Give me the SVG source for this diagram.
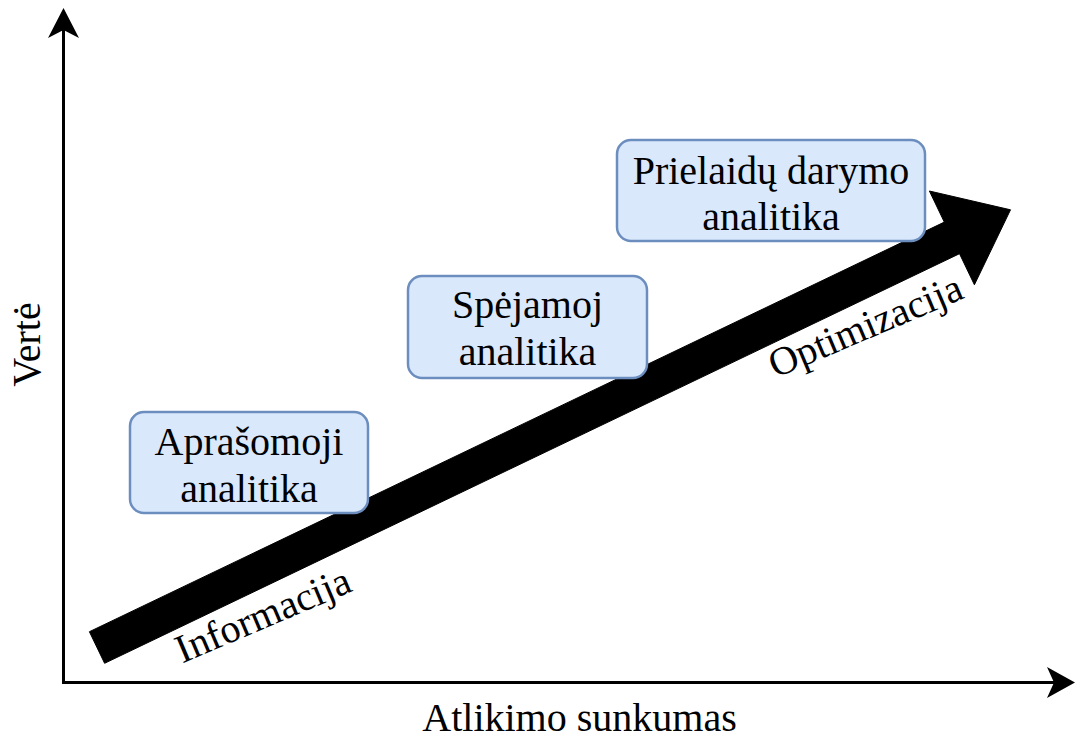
<svg xmlns="http://www.w3.org/2000/svg" width="1076" height="740" viewBox="0 0 1076 740">
<style>
.box{fill:#dae8fc;stroke:#6c8ebf;stroke-width:2.5}
.t{font-family:"Liberation Serif","Times New Roman",serif;font-size:40px;fill:#000;text-anchor:middle}
.axis{stroke:#000;stroke-width:3;fill:none}
</style>
<rect width="1076" height="740" fill="#fff"/>
<g id="connectors">
<line class="axis" x1="63.5" y1="684" x2="63.5" y2="30"/>
<line class="axis" x1="62" y1="682.5" x2="1054" y2="682.5"/>
<path d="M63.5 8 L79 38 L63.5 30 L48 38 Z" fill="#000"/>
<path d="M1075 682.5 L1047 698 L1054 682.5 L1047 667 Z" fill="#000"/>
<polygon id="big-arrow" points="89.4,631.7 944.3,222.1 929.4,191 1010.5,209.8 974.4,284.8 959.5,253.7 104.6,663.3" fill="#000" stroke="#000" stroke-width="1" stroke-linejoin="round"/>
</g>
<g id="node-aprasomoji">
<rect class="box" x="130" y="412" width="238" height="101" rx="14"/>
<text class="t" x="249" y="455">Aprašomoji</text>
<text class="t" x="249" y="502">analitika</text>
</g>
<g id="node-spejamoj">
<rect class="box" x="408" y="276" width="239" height="102" rx="14"/>
<text class="t" x="527.5" y="318">Spėjamoj</text>
<text class="t" x="527.5" y="365">analitika</text>
</g>
<g id="node-prielaidu">
<rect class="box" x="617" y="140" width="308" height="101" rx="14"/>
<text class="t" x="771" y="184">Prielaidų darymo</text>
<text class="t" x="771" y="230">analitika</text>
</g>
<g id="labels">
<text class="t" x="579.5" y="731">Atlikimo sunkumas</text>
<text class="t" transform="translate(40,344.5) rotate(-90)">Vertė</text>
<text class="t" transform="translate(268,627) rotate(-23)">Informacija</text>
<text class="t" transform="translate(870.5,338) rotate(-23)">Optimizacija</text>
</g>
</svg>
